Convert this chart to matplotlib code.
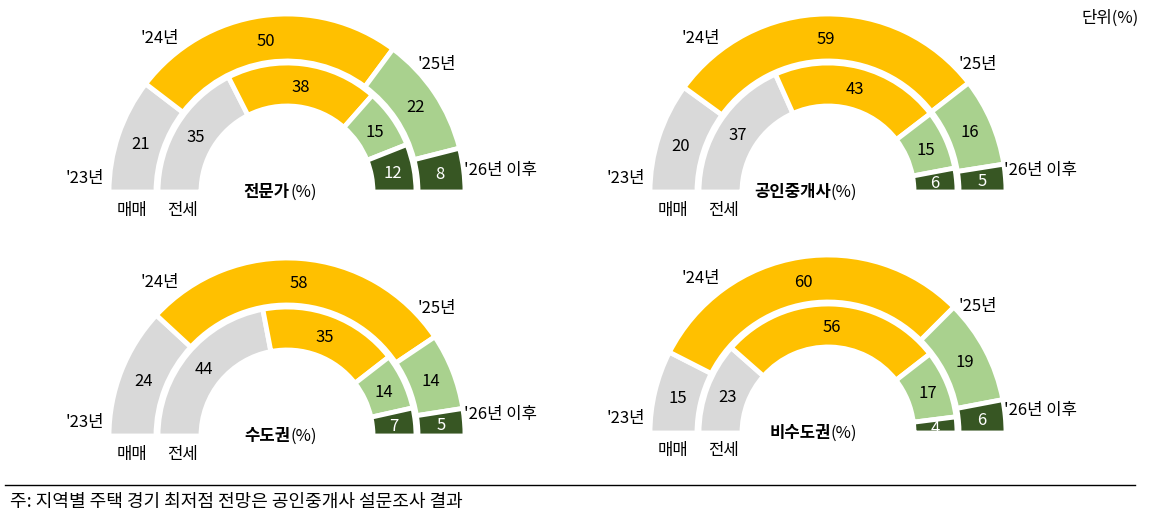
import math
import matplotlib
matplotlib.use("Agg")
import matplotlib.pyplot as plt
from matplotlib.patches import Wedge

plt.rcParams['font.family'] = 'Noto Sans CJK KR'

titles = ["전문가", "공인중개사", "수도권", "비수도권"]
sale = [[21, 50, 22, 8], [20, 59, 16, 5], [24, 58, 14, 5], [15, 60, 19, 6]]
jeonse = [[35, 38, 15, 12], [37, 43, 15, 6], [44, 35, 14, 7], [23, 56, 17, 4]]
period_labels = ["'23년", "'24년", "'25년", "'26년 이후"]
colors = ["#d9d9d9", "#ffc000", "#a9d18e", "#375623"]
txtcol = ["#000000", "#000000", "#000000", "#ffffff"]

centers = [(287, 192), (828, 192), (287, 436), (828, 433)]

fig = plt.figure(figsize=(11.57, 5.26), dpi=100)
ax = fig.add_axes([0, 0, 1, 1])
ax.set_xlim(0, 1157)
ax.set_ylim(526, 0)
ax.set_aspect('equal')
ax.axis('off')

def ring(cx, cy, vals, r, w):
    tot = sum(vals)
    start = 180.0
    for v, c, tc in zip(vals, colors, txtcol):
        span = 180.0 * v / tot
        a1, a2 = start - span, start
        ax.add_patch(Wedge((cx, cy), r, -a2, -a1, width=w, facecolor=c,
                           edgecolor='white', linewidth=3.5))
        m = math.radians(start - span / 2)
        rr = r - w / 2
        ax.text(cx + rr * math.cos(m), cy - rr * math.sin(m) + 2, str(v),
                ha='center', va='center', fontsize=12, color=tc)
        start -= span

for (cx, cy), t, s, j in zip(centers, titles, sale, jeonse):
    ring(cx, cy, s, 178, 47)
    ring(cx, cy, j, 129, 43)
    ax.text(cx + 3, cy, t, ha='right', va='center', fontsize=12, fontweight='bold')
    ax.text(cx + 3, cy, "(%)", ha='left', va='center', fontsize=12)
    ax.text(cx - 202, cy - 14, period_labels[0], ha='center', va='center', fontsize=12)
    ax.text(cx - 127, cy - 154, period_labels[1], ha='center', va='center', fontsize=12)
    ax.text(cx + 150, cy - 127, period_labels[2], ha='center', va='center', fontsize=12)
    ax.text(cx + 213, cy - 22, period_labels[3], ha='center', va='center', fontsize=12)
    ax.text(cx - 155, cy + 18, "매매", ha='center', va='center', fontsize=12)
    ax.text(cx - 105, cy + 18, "전세", ha='center', va='center', fontsize=12)

ax.text(1110, 18, "단위(%)", ha='center', va='center', fontsize=12)
ax.plot([5, 1135], [485, 485], color='black', linewidth=1)
ax.text(10, 502, "주: 지역별 주택 경기 최저점 전망은 공인중개사 설문조사 결과", ha='left', va='center', fontsize=13)

fig.savefig("out.png", dpi=100)
